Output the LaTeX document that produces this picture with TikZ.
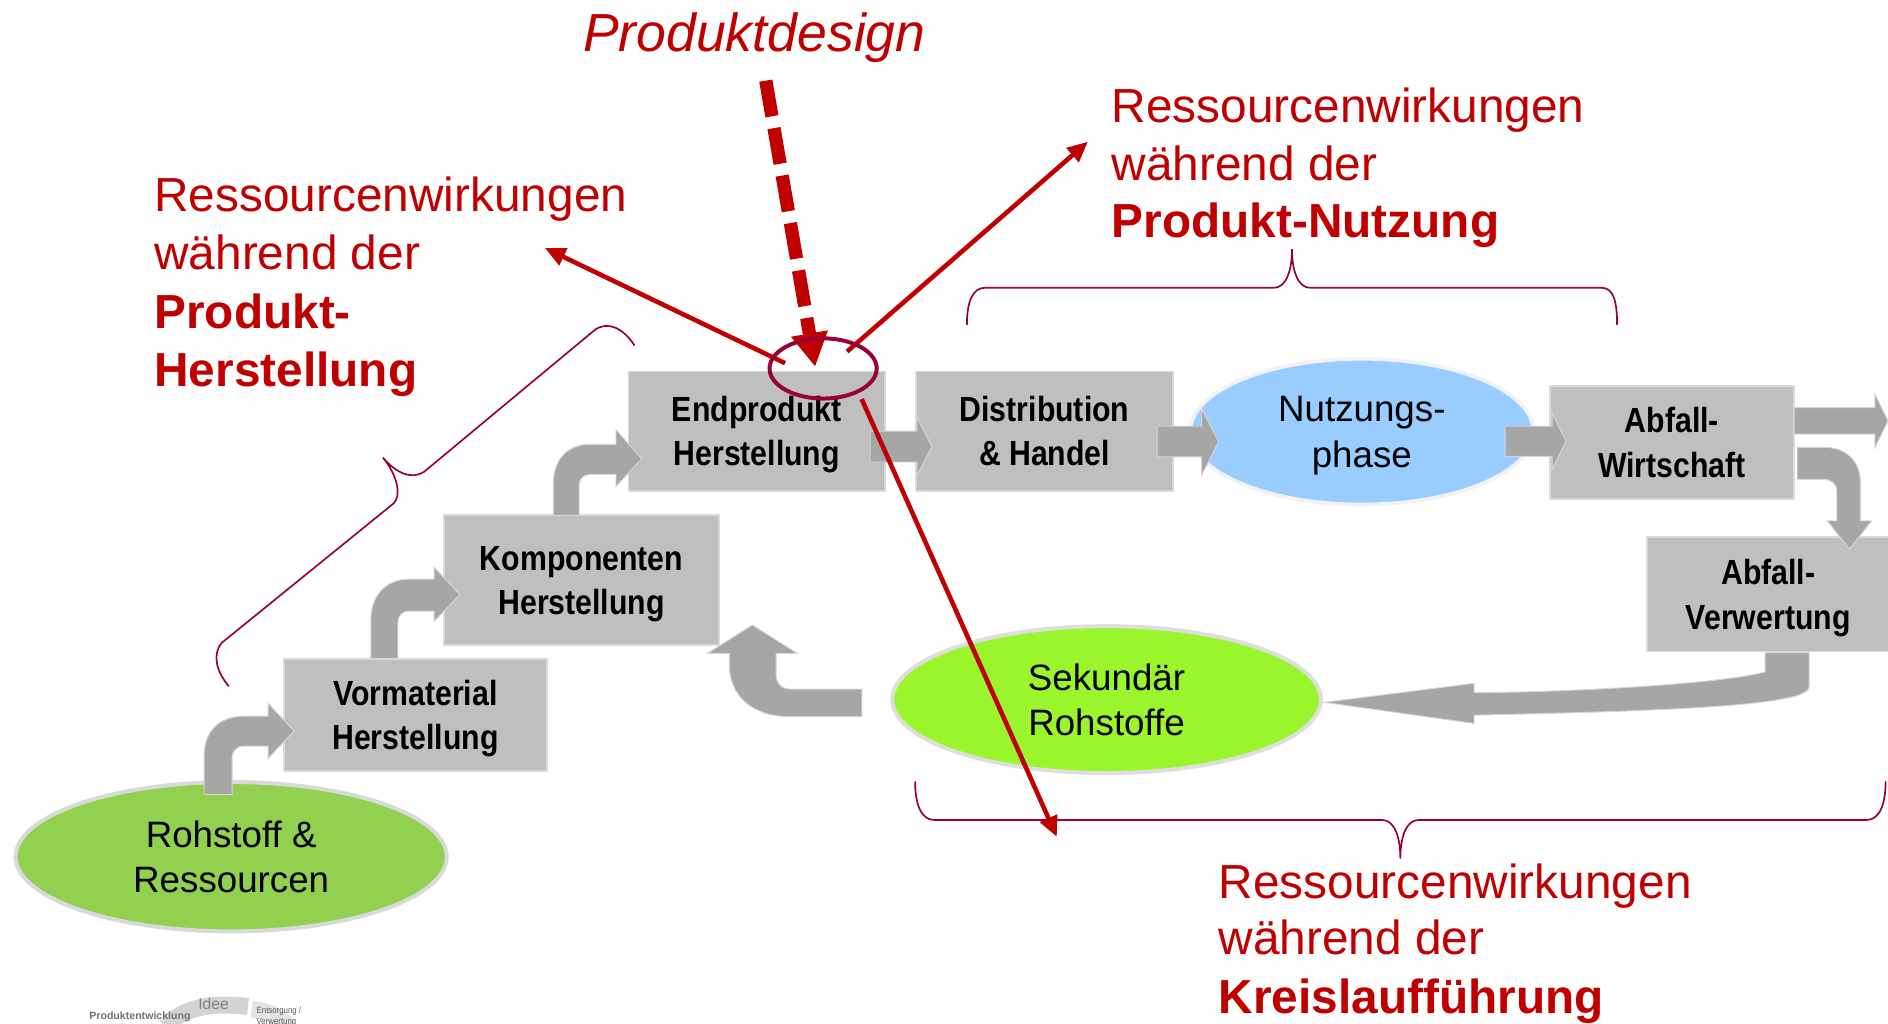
\documentclass[tikz,border=0pt]{standalone}
\usepackage{fontspec}
\setmainfont{Liberation Sans}
\newfontfamily\boxfont[FakeStretch=0.866]{Liberation Sans}
\usetikzlibrary{shapes.geometric,arrows.meta,calc}
\definecolor{dred}{HTML}{C00000}
\definecolor{maroon}{HTML}{990033}
\definecolor{boxgray}{HTML}{BFBFBF}
\definecolor{boxedge}{HTML}{DADADA}
\definecolor{arrowgray}{HTML}{A6A6A6}
\definecolor{arrowedge}{HTML}{D6D6D6}
\definecolor{rohgreen}{HTML}{92D050}
\definecolor{sekgreen}{HTML}{9BF52D}
\definecolor{nutzblue}{HTML}{99CCFF}
\tikzset{
  procbox/.style={rectangle, fill=boxgray, draw=boxedge, line width=1.5pt, align=center, inner sep=0pt,
    text depth=0pt, font=\boxfont\bfseries\fontsize{29}{37}\selectfont},
  blob/.style={ellipse, align=center, inner sep=0pt, text depth=0pt, font=\fontsize{30.5}{38}\selectfont},
  garrow/.style={fill=arrowgray, draw=arrowedge, line width=0.8pt},
  redtxt/.style={text=dred, anchor=base west, inner sep=0pt, font=\fontsize{39.7}{48}\selectfont},
  redbold/.style={text=dred, anchor=base west, inner sep=0pt, font=\bfseries\fontsize{39.7}{48}\selectfont},
  redarrow/.style={draw=dred, line width=3.8pt, -{Triangle[length=17pt,width=15pt]}},
  bracestyle/.style={draw=maroon, line width=1.4pt},
  logotxt/.style={inner sep=0pt, anchor=base west, text=black!50},
}
\begin{document}
\begin{tikzpicture}[x=1pt,y=-1pt]
\fill[white] (0,0) rectangle (1568,850);
\useasboundingbox (0,0) rectangle (1568,850);

% ---------- nodes ----------
\node[blob, fill=rohgreen, draw=black!15, line width=3.3pt, minimum width=358, minimum height=124] (rohs) at (192,711.5) {Rohstoff \&\\Ressourcen};
\node[blob, fill=sekgreen, draw=black!13, line width=3.3pt, minimum width=356, minimum height=122] (sek) at (919,581) {Sekund\"ar\\Rohstoffe};
\node[blob, fill=nutzblue, draw=black!5, line width=3pt, minimum width=285, minimum height=121] (nutz) at (1131,358.5) {Nutzungs-\\phase};

\node[procbox, minimum width=218, minimum height=93] (vorm) at (345,593.5) {Vormaterial\\Herstellung};
\node[procbox, minimum width=228, minimum height=108] (komp) at (483,482) {Komponenten\\Herstellung};
\node[procbox, minimum width=213, minimum height=99] (endp) at (628.5,358) {Endprodukt\\Herstellung};
\node[procbox, minimum width=213, minimum height=99] (dist) at (867.5,358) {Distribution\\\& Handel};
\node[procbox, minimum width=203, minimum height=94] (abfw) at (1388.5,367.5) {Abfall-\\Wirtschaft};
\node[procbox, minimum width=201, minimum height=95] (abfv) at (1468.5,493.5) {Abfall-\\Verwertung};

% ---------- grey block arrows ----------
% Rohstoff -> Vormaterial
\path[garrow] (169.5,660) -- (169.5,628) .. controls (169.5,607) and (182,594.7) .. (204,594.7)
  -- (222.6,594.7) -- (222.6,584) -- (244.2,607) -- (222.6,630) -- (222.6,619.6) -- (203,619.6)
  .. controls (197,619.6) and (192.7,623) .. (192.7,630) -- (192.7,660) -- cycle;
% Vormaterial -> Komponenten
\path[garrow] (308,547) -- (308,515) .. controls (308,495) and (320,481) .. (340,481)
  -- (360.5,481) -- (360.5,471) -- (382,494) -- (360.5,516) -- (360.5,507.5) -- (340,507.5)
  .. controls (334,507.5) and (330.5,511) .. (330.5,517) -- (330.5,547) -- cycle;
% Komponenten -> Endprodukt
\path[garrow] (459.5,428) -- (459.5,402) .. controls (459.5,382) and (471,369) .. (490,369)
  -- (511.6,369) -- (511.6,357) -- (533,381) -- (511.6,404) -- (511.6,394) -- (491,394)
  .. controls (485,394) and (481,397) .. (481,403) -- (481,428) -- cycle;
% Endprodukt -> Distribution
\path[garrow] (722.6,358) -- (761.5,358) -- (761.5,346.5) -- (774,370.8) -- (761.5,395.1)
  -- (761.5,383.7) -- (722.6,383.7) -- cycle;
% Distribution -> Nutzung
\path[garrow] (961,354) -- (998,354) -- (998,339) -- (1012,366.8) -- (998,394.6)
  -- (998,379.5) -- (961,379.5) -- cycle;
% Nutzung -> Abfall-Wirtschaft
\path[garrow] (1250,354) -- (1289,354) -- (1289,343) -- (1300.6,366.5) -- (1289,390)
  -- (1289,379) -- (1250,379) -- cycle;
% Abfall-Wirtschaft -> out
\path[garrow] (1490,338.5) -- (1557,338.5) -- (1557,327) -- (1568,349.5) -- (1557,372)
  -- (1557,360.5) -- (1490,360.5) -- cycle;
% Abfall-Wirtschaft -> Abfall-Verwertung
\path[garrow] (1492.6,371.5) -- (1515,371.5) .. controls (1533,371.5) and (1545,383) .. (1545,400)
  -- (1545,432.5) -- (1554.5,432.5) -- (1536,456) -- (1517.5,432.5) -- (1525.5,432.5) -- (1525.5,408)
  .. controls (1525.5,402) and (1521,398.1) .. (1515,398.1) -- (1492.6,398.1) -- cycle;
% Abfall-Verwertung -> Sekundaer Rohstoffe
\path[garrow] (1099.7,583.3) -- (1224.2,567.5) -- (1224.2,575.3)
  .. controls (1330,574.5) and (1440,566) .. (1465.9,557.9) -- (1465.9,542) -- (1502.5,542)
  -- (1502.5,570.3) .. controls (1502.5,584) and (1420,590) .. (1224.2,593.9)
  -- (1224.2,600.8) -- cycle;
% Sekundaer Rohstoffe -> Komponenten
\path[garrow] (715.7,572.3) -- (656,572.3) .. controls (649,572.3) and (644.5,567) .. (644.5,560)
  -- (644.5,542.6) -- (662.2,542.6) -- (624.8,519.1) -- (587.5,542.6) -- (605.7,542.6)
  -- (605.7,552) .. controls (605.7,578) and (625,595.2) .. (656,595.2) -- (715.7,595.2) -- cycle;

% ---------- braces ----------
\path[bracestyle] (190,570) .. controls (180,558) and (176,544) .. (184,534) -- (327,418)
  .. controls (333,412) and (331,396) .. (318,380) .. controls (330,394) and (342,398) .. (352,392)
  -- (494,274) .. controls (505,266) and (518,273) .. (527,287);
\path[bracestyle] (803,270) .. controls (803,250) and (808,239) .. (818,239) -- (1058,239)
  .. controls (1068,239) and (1073,225) .. (1073,207) .. controls (1073,225) and (1078,239) .. (1088,239)
  -- (1330,239) .. controls (1340,239) and (1343,250) .. (1343,270);
\path[bracestyle] (760,649) .. controls (760,668) and (765,681) .. (776,681) -- (1148,681)
  .. controls (1158,681) and (1163,695) .. (1163,713) .. controls (1163,695) and (1168,681) .. (1178,681)
  -- (1550,681) .. controls (1561,681) and (1566,668) .. (1566,649);

% ---------- red texts ----------
\node[text=dred, anchor=base west, inner sep=0pt, font=\itshape\fontsize{44.5}{54}\selectfont] (pdesign) at (484,43) {Produktdesign};

\node[redtxt] (tl1) at (128,176) {Ressourcenwirkungen};
\node[redtxt] (tl2) at (128,224) {w\"ahrend der};
\node[redbold] (tl3) at (128,272.5) {Produkt-};
\node[redbold] (tl4) at (128,320.6) {Herstellung};

\node[redtxt] (tr1) at (923,101.5) {Ressourcenwirkungen};
\node[redtxt] (tr2) at (923,149.5) {w\"ahrend der};
\node[redbold] (tr3) at (923,197) {Produkt-Nutzung};

\node[redtxt] (br1) at (1012,746) {Ressourcenwirkungen};
\node[redtxt] (br2) at (1012,793) {w\"ahrend der};
\node[redbold] (br3) at (1012,841.6) {Kreislauff\"uhrung};

% ---------- focus and red arrows ----------
\node[ellipse, minimum width=88, minimum height=49, inner sep=0pt] (focus) at (683.6,306) {};
\coordinate (pdstart) at (636,67);
\coordinate (tltip) at (452.6,206);
\coordinate (trtip) at (903.5,117.7);
\coordinate (bttip) at (877.7,695);
\draw[redarrow] ($(focus.center)+(-31.6,-4.4)$) -- (tltip);
\draw[redarrow] ($(focus.center)+(19.9,-14)$) -- (trtip);
\draw[redarrow] ($(focus.center)+(32,25.4)$) -- (bttip);
\draw[draw=dred, line width=11pt, dash pattern=on 30pt off 10pt, -{Triangle[length=28pt,width=29pt]}]
  (pdstart) -- ($(focus.center)+(-6.6,-1.4)$);
\draw[draw=maroon, line width=3.3pt] (focus.center) ellipse [x radius=44.5, y radius=25];

% ---------- small logo ----------
\path[draw=black!17, line width=14pt] (138,853) .. controls (150,838) and (172,832) .. (206,836);
\path[draw=black!10, line width=14pt] (209,838) .. controls (224,840) and (233,845) .. (240,853);
\node[logotxt, font=\bfseries\fontsize{8.8}{10}\selectfont, text=black!55] (lg1) at (74,847) {Produktentwicklung};
\node[logotxt, font=\fontsize{13}{14}\selectfont] (lg2) at (164.5,838) {Idee};
\node[logotxt, font=\boxfont\fontsize{7.5}{9}\selectfont, text=black!65] (lg3) at (213,841.5) {Entsorgung /};
\node[logotxt, font=\boxfont\fontsize{7.5}{9}\selectfont, text=black!65] (lg4) at (213,851) {Verwertung};
\end{tikzpicture}
\end{document}
